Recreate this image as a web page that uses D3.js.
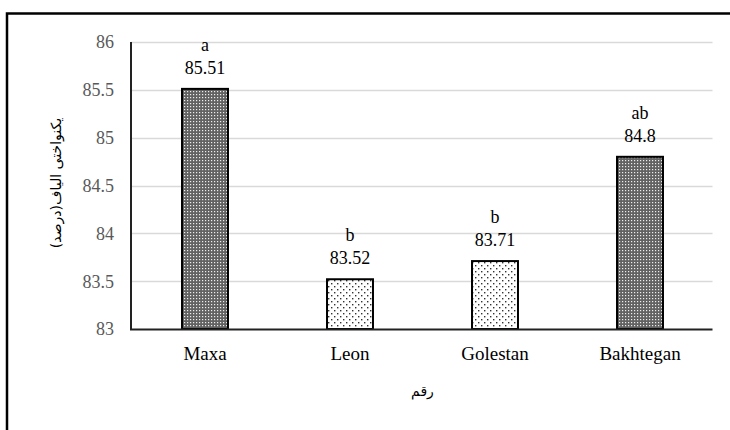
<!DOCTYPE html>
<html>
<head>
<meta charset="utf-8">
<script src="https://cdn.jsdelivr.net/npm/d3@7/dist/d3.min.js"></script>
<style>
  html, body { margin: 0; padding: 0; background: #fff; }
  svg { display: block; }
  .serif { font-family: "Liberation Serif", "Times New Roman", Tinos, "DejaVu Serif", serif; }
</style>
</head>
<body>
<svg id="chart" width="730" height="430"></svg>
<script>
const categories = ["Maxa", "Leon", "Golestan", "Bakhtegan"];
const values = [85.51, 83.52, 83.71, 84.8];
const letters = ["a", "b", "b", "ab"];
const patterns = ["dense", "sparse", "sparse", "dense"];
const yTicks = [83, 83.5, 84, 84.5, 85, 85.5, 86];
const yTitle = "یکنواختی الیاف(درصد)";
const xTitle = "رقم";

const svg = d3.select("#chart");
const W = 730, H = 430;
const margin = { left: 132.5, right: 17.5, top: 42, bottom: 101 };

const defs = svg.append("defs");
const pd = defs.append("pattern").attr("id", "dense")
  .attr("patternUnits", "userSpaceOnUse").attr("width", 3).attr("height", 3);
pd.append("rect").attr("width", 3).attr("height", 3).attr("fill", "#626262");
pd.append("rect").attr("x", 1).attr("y", 1).attr("width", 1.2).attr("height", 1.2).attr("fill", "#eeeeee");
const ps = defs.append("pattern").attr("id", "sparse")
  .attr("patternUnits", "userSpaceOnUse").attr("width", 6).attr("height", 6);
ps.append("rect").attr("width", 6).attr("height", 6).attr("fill", "#fff");
ps.append("rect").attr("x", 1).attr("y", 1).attr("width", 1.4).attr("height", 1.4).attr("fill", "#333");
ps.append("rect").attr("x", 4).attr("y", 4).attr("width", 1.4).attr("height", 1.4).attr("fill", "#333");

svg.append("rect").attr("x", 7).attr("y", 13.5).attr("width", 900).attr("height", 600)
  .attr("fill", "none").attr("stroke", "#000").attr("stroke-width", 2.5);

const x = d3.scaleBand().domain(categories)
  .range([margin.left, W - margin.right]).paddingInner(0.683).paddingOuter(0.3415);
const y = d3.scaleLinear().domain([83, 86]).range([H - margin.bottom, margin.top]);

svg.append("g").selectAll("line").data(yTicks.slice(1)).join("line")
  .attr("x1", 131).attr("x2", W - margin.right)
  .attr("y1", d => Math.round(y(d)) + 0.5).attr("y2", d => Math.round(y(d)) + 0.5)
  .attr("stroke", "#d9d9d9").attr("stroke-width", 1.5);

const yAxis = d3.axisLeft(y).tickValues(yTicks).tickSize(0).tickPadding(0).tickFormat(d3.format("~g"));
const gy = svg.append("g").attr("transform", "translate(114,0)").call(yAxis)
  .attr("font-family", null).attr("font-size", null);
gy.select(".domain").remove();
gy.selectAll("text").attr("class", "serif").attr("font-size", 18)
  .attr("fill", "#595959").attr("dy", "0.33em");

svg.append("g").selectAll("rect").data(categories).join("rect")
  .attr("x", d => x(d)).attr("width", x.bandwidth())
  .attr("y", (d, i) => y(values[i])).attr("height", (d, i) => y(83) - y(values[i]))
  .attr("fill", (d, i) => `url(#${patterns[i]})`)
  .attr("stroke", "#000").attr("stroke-width", 2);

svg.append("line").attr("x1", 131).attr("x2", 131).attr("y1", y(86)).attr("y2", y(83) + 1)
  .attr("stroke", "#222").attr("stroke-width", 2);
svg.append("line").attr("x1", 130).attr("x2", W - margin.right).attr("y1", y(83) + 0.5).attr("y2", y(83) + 0.5)
  .attr("stroke", "#222").attr("stroke-width", 2);

const xAxis = d3.axisBottom(x).tickSize(0).tickPadding(0);
const gx = svg.append("g").attr("transform", `translate(0,${y(83)})`).call(xAxis)
  .attr("font-family", null).attr("font-size", null);
gx.select(".domain").remove();
gx.selectAll("text").attr("class", "serif").attr("font-size", 19)
  .attr("fill", "#000").attr("dy", "1.62em");

const lab = svg.append("g").attr("class", "serif").attr("font-size", 18)
  .attr("fill", "#000").attr("text-anchor", "middle");
lab.selectAll("text.v").data(categories).join("text")
  .attr("x", d => x(d) + x.bandwidth() / 2)
  .attr("y", (d, i) => y(values[i]) - 15)
  .text((d, i) => d3.format("~g")(values[i]));
lab.selectAll("text.l").data(categories).join("text")
  .attr("x", d => x(d) + x.bandwidth() / 2)
  .attr("y", (d, i) => y(values[i]) - 38)
  .text((d, i) => letters[i]);

svg.append("text").attr("transform", "translate(61,183) rotate(-90)")
  .attr("text-anchor", "middle").attr("font-family", "'DejaVu Sans', sans-serif")
  .attr("font-size", 14).attr("fill", "#000").text(yTitle);
svg.append("text").attr("x", (margin.left + W - margin.right) / 2).attr("y", 396)
  .attr("text-anchor", "middle").attr("font-family", "'DejaVu Sans', sans-serif")
  .attr("font-size", 14).attr("fill", "#000").text(xTitle);
</script>
</body>
</html>
